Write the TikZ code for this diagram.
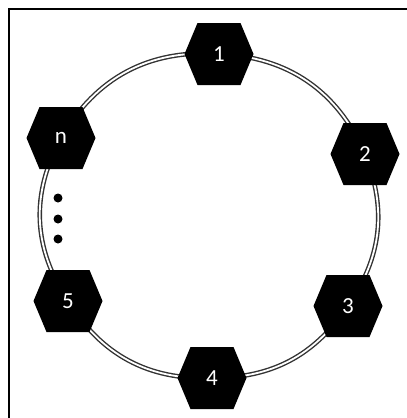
\documentclass[tikz,border=0pt]{standalone}
\usepackage{fontspec}
\newfontfamily\labelfont{Carlito}
\usetikzlibrary{backgrounds}

\tikzset{
  hexnode/.style={
    minimum width=69pt, minimum height=62pt, inner sep=0pt,
    text=white, font=\labelfont\fontsize{23}{27}\selectfont,
    path picture={
      \fill[black]
        ([xshift=13pt]path picture bounding box.north west) --
        ([xshift=-13pt]path picture bounding box.north east) --
        (path picture bounding box.east) --
        ([xshift=-13pt]path picture bounding box.south east) --
        ([xshift=13pt]path picture bounding box.south west) --
        (path picture bounding box.west) -- cycle;
    }
  },
  ring/.style={draw=black!80, line width=1.4pt, double=white, double distance=1.8pt},
  frame/.style={draw=black, line width=2pt},
  dotmark/.style={circle, fill=black, minimum size=9pt, inner sep=0pt}
}

\begin{document}
\begin{tikzpicture}[x=1pt, y=-1pt]
  \useasboundingbox (0,0) rectangle (407,418);

  % frame (top and left edges)
  \draw[frame] (8.5,420) -- (8.5,8.5) -- (410,8.5);

  % processes around the ring
  \node[hexnode] (p1) at (219,54)  {1};
  \node[hexnode] (p2) at (365,154) {2};
  \node[hexnode] (p3) at (348,306) {3};
  \node[hexnode] (p4) at (212,378) {4};
  \node[hexnode] (p5) at (68,301)  {5};
  \node[hexnode] (pn) at (61,138)  {n};

  % ellipsis between n and 5
  \node[dotmark] (d1) at (58,198) {};
  \node[dotmark] (d2) at (58,219) {};
  \node[dotmark] (d3) at (58,239) {};

  % ring links, behind the processes
  \begin{scope}[on background layer]
    \draw[ring] (p1.center) to[bend left=32] (p2.center);
    \draw[ring] (p2.center) to[bend left=28] (p3.center);
    \draw[ring] (p3.center) to[bend left=28] (p4.center);
    \draw[ring] (p4.center) to[bend left=30] (p5.center);
    \draw[ring] (p5.center) to[bend left=31] (pn.center);
    \draw[ring] (pn.center) to[bend left=32] (p1.center);
  \end{scope}
\end{tikzpicture}
\end{document}
